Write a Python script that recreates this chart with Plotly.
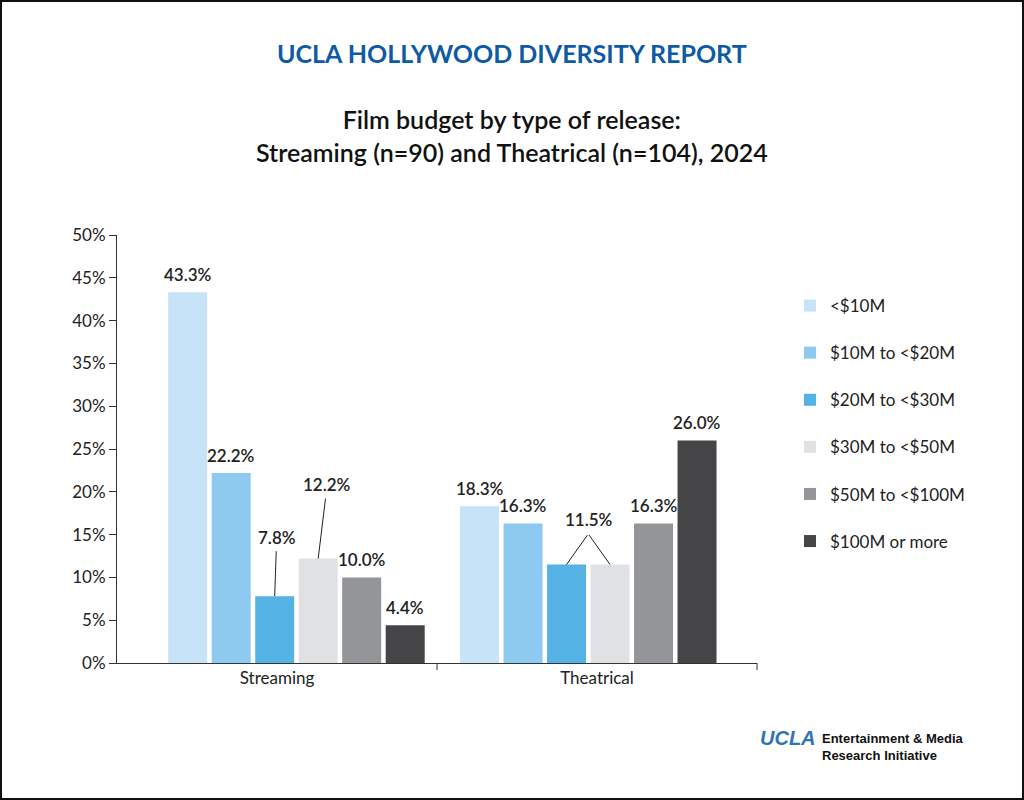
import plotly.graph_objects as go

categories = ["Streaming", "Theatrical"]
series_names = ["<$10M", "$10M to <$20M", "$20M to <$30M", "$30M to <$50M", "$50M to <$100M", "$100M or more"]
streaming = [43.3, 22.2, 7.8, 12.2, 10.0, 4.4]
theatrical = [18.3, 16.3, 11.5, 11.5, 16.3, 26.0]
colors = ["#c7e3f7", "#8ecaef", "#55b2e5", "#e0e1e3", "#949598", "#454547"]
y_ticks = list(range(0, 51, 5))

L, R, T, B = 117, 267, 235, 137
PW, PH = 1024 - L - R, 800 - T - B
FONT = "Lato"
CAT_PX = PW / 2
BAR_W = 39 / CAT_PX
PITCH = 43.5 / CAT_PX
GROUP_START = [-0.34, -0.428]

fig = go.Figure()
for i, name in enumerate(series_names):
    fig.add_trace(go.Bar(
        x=categories, y=[streaming[i], theatrical[i]], name=name,
        marker=dict(color=colors[i], line=dict(width=0)),
        width=BAR_W, offset=[g + i * PITCH for g in GROUP_START],
        legendgroup=str(i),
    ))

LBL = dict(size=17, weight=600, color="#222", family=FONT)
ann = []
special = {(0, 2): (2, -59), (0, 3): (9, -74)}
apex = {(1, 2): (22, -31), (1, 3): (-22, -31)}
for ci, vals in enumerate([streaming, theatrical]):
    for i, v in enumerate(vals):
        xs = (GROUP_START[ci] + i * PITCH + BAR_W / 2) * CAT_PX
        if (ci, i) in special:
            ax, ay = special[(ci, i)]
            ann.append(dict(x=categories[ci], y=v, xref="x", yref="y", xshift=xs,
                            text=f"{v:.1f}%", showarrow=True, ax=ax, ay=ay,
                            arrowhead=0, arrowwidth=1, arrowcolor="#222", standoff=0,
                            font=LBL, borderpad=3))
        elif (ci, i) in apex:
            ax, ay = apex[(ci, i)]
            ann.append(dict(x=categories[ci], y=v, xref="x", yref="y", xshift=xs,
                            text="", showarrow=True, ax=ax, ay=ay,
                            arrowhead=0, arrowwidth=1, arrowcolor="#222", standoff=0))
            if i == 2:
                ann.append(dict(x=categories[ci], y=v, xref="x", yref="y", xshift=xs + ax,
                                yshift=-ay + 2, text=f"{v:.1f}%", showarrow=False,
                                yanchor="bottom", font=LBL))
        else:
            ann.append(dict(x=categories[ci], y=v, xref="x", yref="y", xshift=xs, yshift=5,
                            text=f"{v:.1f}%", showarrow=False, yanchor="bottom", font=LBL))

def px(x): return (x - L) / PW
def py(y): return (800 - B - y) / PH

ann += [
    dict(x=px(512), y=py(53), xref="paper", yref="paper", showarrow=False, yanchor="middle",
         text="<b>UCLA HOLLYWOOD DIVERSITY REPORT</b>", font=dict(size=25, color="#0f5aa6", family=FONT)),
    dict(x=px(512), y=py(135), xref="paper", yref="paper", showarrow=False, yanchor="middle",
         text="Film budget by type of release:<br>Streaming (n=90) and Theatrical (n=104), 2024",
         font=dict(size=25, weight=600, color="#111", family=FONT)),
    dict(x=px(758), y=py(738), xref="paper", yref="paper", showarrow=False, xanchor="left", yanchor="middle",
         text="<b><i>UCLA</i></b>", font=dict(size=20, color="#2f74b5", family="Liberation Sans")),
    dict(x=px(820), y=py(747), xref="paper", yref="paper", showarrow=False, xanchor="left", yanchor="middle",
         align="left", text="<b>Entertainment &amp; Media<br>Research Initiative</b>",
         font=dict(size=13, color="#111", family="Liberation Sans")),
]

fig.update_layout(
    width=1024, height=800, margin=dict(l=L, r=R, t=T, b=B, autoexpand=False),
    paper_bgcolor="white", plot_bgcolor="white",
    barmode="overlay",
    font=dict(family=FONT, size=17, color="#222"),
    xaxis=dict(showline=True, linecolor="#333", linewidth=1, ticks="", showgrid=False,
               tickfont=dict(size=17, color="#222")),
    yaxis=dict(range=[0, 50], tickvals=y_ticks, ticktext=[f"{t}%" for t in y_ticks],
               showline=True, linecolor="#333", linewidth=1, ticks="outside", ticklen=7,
               tickcolor="#333", showgrid=False, zeroline=False, tickfont=dict(size=17, color="#222")),
    legend=dict(x=px(790), y=py(288), xanchor="left", yanchor="top", tracegroupgap=22,
                font=dict(size=17, color="#222", family=FONT), itemwidth=30),
    annotations=ann,
    shapes=[
        dict(type="line", xref="paper", yref="paper", x0=0.5, x1=0.5, y0=0, y1=-7/PH,
             line=dict(color="#333", width=1)),
        dict(type="line", xref="paper", yref="paper", x0=1, x1=1, y0=0, y1=-7/PH,
             line=dict(color="#333", width=1)),
        dict(type="rect", xref="paper", yref="paper", x0=px(1), x1=px(1023), y0=py(1), y1=py(799),
             line=dict(color="#111", width=2)),
    ],
)
fig.write_html("out.html", config={"displayModeBar": False},
               post_script="document.body.style.margin='0';document.body.style.overflow='hidden';")
